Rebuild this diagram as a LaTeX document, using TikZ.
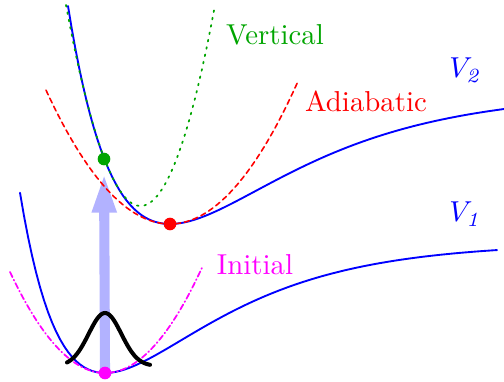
\documentclass[tikz,border=0pt]{standalone}
\usepackage{amsmath}
\usetikzlibrary{arrows.meta}
\definecolor{vgreen}{RGB}{0,165,0}
\definecolor{lightarrow}{RGB}{178,178,255}
\definecolor{pink}{RGB}{255,0,255}

\begin{document}
\begin{tikzpicture}[
			x=0.347pt, y=0.347pt,
			line cap=round,
			line join=round,
			pot/.style={blue, line width=0.65pt},
			dot/.style={circle, fill, inner sep=0pt, minimum size=4.4pt},
			every node/.style={font=\normalsize}
			]
			\useasboundingbox (0,0) rectangle (504,381);
			
			% states
			\coordinate (gs) at (105,8);
			\coordinate (ex) at (104,222);
			\coordinate (ad) at (170,157);
			
			% vertical excitation
			\draw[
			lightarrow,
			line width=3.5pt,
			line cap=butt,
			shorten >=4.6pt,
			-{Triangle[length=14pt, width=7.6pt]}
			] (gs) -- (ex);
			
			% potentials
			\draw[pot, domain=20:497, samples=120]
			plot (\x, {8 + 130*(1 - exp(-0.00915*(\x-105)))^2});
			\draw[pot, domain=68:504, samples=120]
			plot (\x, {157 + 132*(1 - exp(-0.00811*(\x-170)))^2});
			
			% harmonic approximations
			\draw[pink, line width=0.6pt,
			dash pattern=on 2pt off 1pt on 0.3pt off 1pt,
			domain=10:203, samples=60]
			plot (\x, {8 + (0.1058*(\x-105))^2});
			\draw[red, line width=0.55pt,
			dash pattern=on 1.8pt off 1.3pt,
			domain=46:298, samples=60]
			plot (\x, {157 + (0.0933*(\x-170))^2});
			\draw[vgreen, line width=0.6pt, dotted,
			domain=66:215, samples=60]
			plot (\x, {175 + (0.1903*(\x-140.5))^2});
			
			% ground state wave packet
			\draw[black, line width=1.4pt, domain=67:150, samples=60]
			plot (\x, {15 + 53*exp(-((\x-105)^2)/534)});
			
			\node[dot, fill=pink] (gsdot) at (gs) {};
			\node[dot, fill=vgreen] (exdot) at (ex) {};
			\node[dot, fill=red] (addot) at (ad) {};
			
			% labels
			\node[text=vgreen] (vertlbl) at (275,346) {Vertical};
			\node[text=red] (adlbl) at (366,280) {Adiabatic};
			\node[text=pink] (initlbl) at (255,116) {Initial};
			\node[text=blue] (vtwo) at (466,311) {$V_{\mathit{2}}$};
			\node[text=blue] (vone) at (466,167) {$V_{\mathit{1}}$};
		\end{tikzpicture}
\end{document}
